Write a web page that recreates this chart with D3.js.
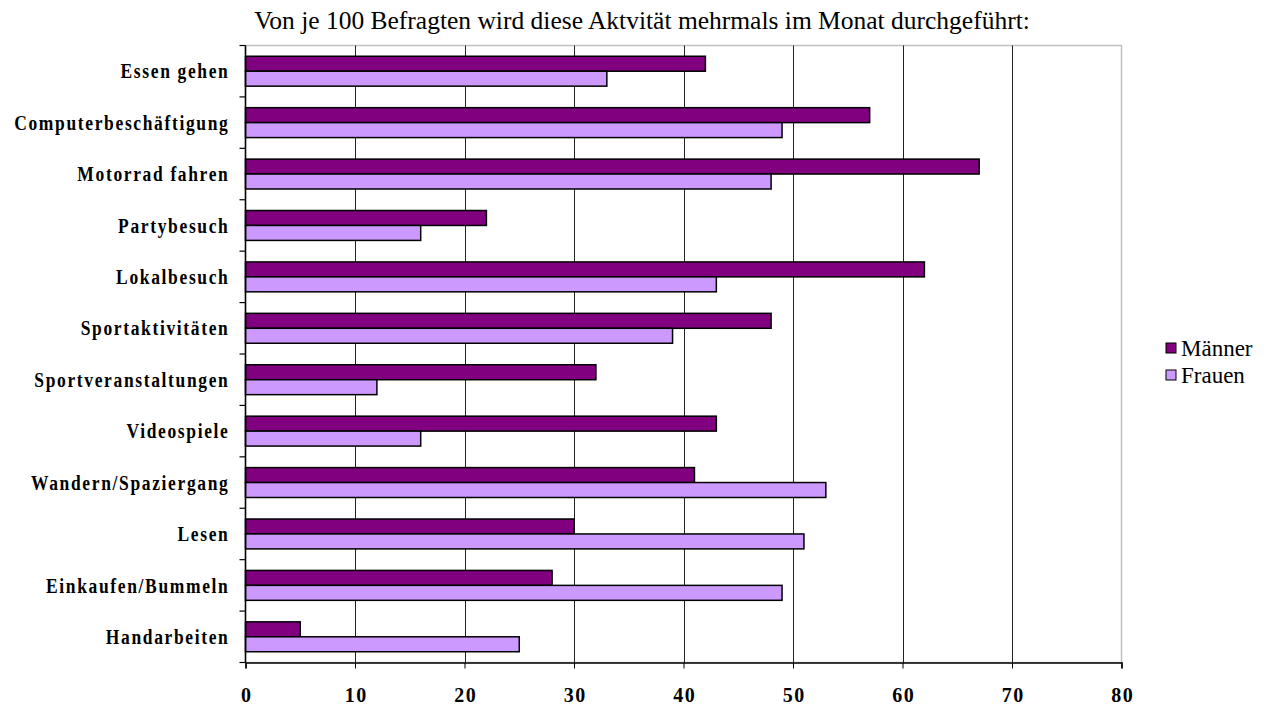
<!DOCTYPE html>
<html>
<head>
<meta charset="utf-8">
<script src="https://cdn.jsdelivr.net/npm/d3@7"></script>
<style>
  html, body { margin: 0; padding: 0; background: #fff; }
  svg { display: block; }
  text { font-family: "Liberation Serif", "Times New Roman", serif; fill: #000; }
</style>
</head>
<body>
<svg id="chart" width="1272" height="708"></svg>
<script>
// Activities, top to bottom
const categories = [
  "Essen gehen", "Computerbeschäftigung", "Motorrad fahren", "Partybesuch",
  "Lokalbesuch", "Sportaktivitäten", "Sportveranstaltungen", "Videospiele",
  "Wandern/Spaziergang", "Lesen", "Einkaufen/Bummeln", "Handarbeiten"
];
const seriesNames = ["Männer", "Frauen"];
const maenner = [42, 57, 67, 22, 62, 48, 32, 43, 41, 30, 28, 5];
const frauen  = [33, 49, 48, 16, 43, 39, 12, 16, 53, 51, 49, 25];
const xTicks = [0, 10, 20, 30, 40, 50, 60, 70, 80];
const title = "Von je 100 Befragten wird diese Aktvität mehrmals im Monat durchgeführt:";

const colors = { "Männer": "#800080", "Frauen": "#cc99ff" };
const values = { "Männer": maenner, "Frauen": frauen };

// Bold axis text is drawn tall and tracked out
const SY = 1.2;
const SY_TICK = 1.1;

const svg = d3.select("#chart");
const plot = { left: 245.5, right: 1121.5, top: 45.5, bottom: 662.5 };

const x = d3.scaleLinear().domain([0, 80]).range([plot.left, plot.right]);
const y = d3.scaleBand().domain(categories).range([plot.top, plot.bottom]).padding(0);
const ySub = d3.scaleBand().domain(seriesNames).range([0, y.bandwidth()])
  .paddingInner(0).paddingOuter(0.72);

// Plot frame (light grey top and right)
svg.append("rect")
  .attr("x", plot.left).attr("y", plot.top)
  .attr("width", plot.right - plot.left).attr("height", plot.bottom - plot.top)
  .attr("fill", "#fff").attr("stroke", "#c0c0c0").attr("stroke-width", 1.5);

// Vertical gridlines
svg.append("g").selectAll("line")
  .data(xTicks.filter(d => d > 0 && d < 80))
  .join("line")
  .attr("x1", d => Math.round(x(d)) + 0.5).attr("x2", d => Math.round(x(d)) + 0.5)
  .attr("y1", plot.top).attr("y2", plot.bottom)
  .attr("stroke", "#222").attr("stroke-width", 1);

// Bars
const groups = svg.append("g").selectAll("g")
  .data(categories)
  .join("g")
  .attr("transform", d => `translate(0,${y(d)})`);

groups.selectAll("rect")
  .data((c, i) => seriesNames.map(s => ({ s, v: values[s][i] })))
  .join("rect")
  .attr("x", x(0))
  .attr("y", d => ySub(d.s))
  .attr("width", d => x(d.v) - x(0))
  .attr("height", ySub.bandwidth())
  .attr("fill", d => colors[d.s])
  .attr("stroke", "#000").attr("stroke-width", 1.5);

// Bottom axis
const xAxis = d3.axisBottom(x).tickValues(xTicks).tickSize(6).tickFormat(d3.format("d"));
const gx = svg.append("g").attr("transform", `translate(0,${plot.bottom})`).call(xAxis);
gx.select(".domain").attr("stroke", "#000").attr("stroke-width", 1.5);
gx.selectAll(".tick line").attr("stroke", "#000");
gx.selectAll(".tick text")
  .attr("font-family", "Liberation Serif, Times New Roman, serif")
  .attr("font-size", 20).attr("font-weight", "bold").attr("fill", "#000")
  .attr("letter-spacing", 1.5)
  .attr("x", 0.75).attr("y", 0).attr("dy", "0.35em")
  .attr("transform", `translate(0,31.5) scale(1,${SY_TICK})`);

// Left axis: ticks at category boundaries
const gy = svg.append("g");
gy.append("line")
  .attr("x1", plot.left).attr("x2", plot.left)
  .attr("y1", plot.top).attr("y2", plot.bottom)
  .attr("stroke", "#000").attr("stroke-width", 1.5);
gy.selectAll("line.tk")
  .data(d3.range(categories.length + 1))
  .join("line").attr("class", "tk")
  .attr("x1", plot.left - 6).attr("x2", plot.left)
  .attr("y1", i => plot.top + i * y.step()).attr("y2", i => plot.top + i * y.step())
  .attr("stroke", "#000").attr("stroke-width", 1.2);
gy.selectAll("text")
  .data(categories)
  .join("text")
  .attr("transform", d => `translate(229.5,${y(d) + y.bandwidth() / 2}) scale(1,${SY})`)
  .attr("dy", "0.34em")
  .attr("text-anchor", "end")
  .attr("font-size", 17.5).attr("font-weight", "bold")
  .attr("letter-spacing", 1.65)
  .text(d => d);

// Title
svg.append("text")
  .attr("x", 642).attr("y", 29)
  .attr("text-anchor", "middle")
  .attr("font-size", 25.5)
  .text(title);

// Legend
const legend = svg.append("g").selectAll("g")
  .data(seriesNames)
  .join("g")
  .attr("transform", (d, i) => `translate(1166,${343 + i * 27})`);
legend.append("rect")
  .attr("x", 0).attr("y", 0).attr("width", 10).attr("height", 10)
  .attr("fill", d => colors[d]).attr("stroke", "#000").attr("stroke-width", 1);
legend.append("text")
  .attr("x", 15).attr("y", 5).attr("dy", "0.35em")
  .attr("font-size", 23)
  .text(d => d);
</script>
</body>
</html>
